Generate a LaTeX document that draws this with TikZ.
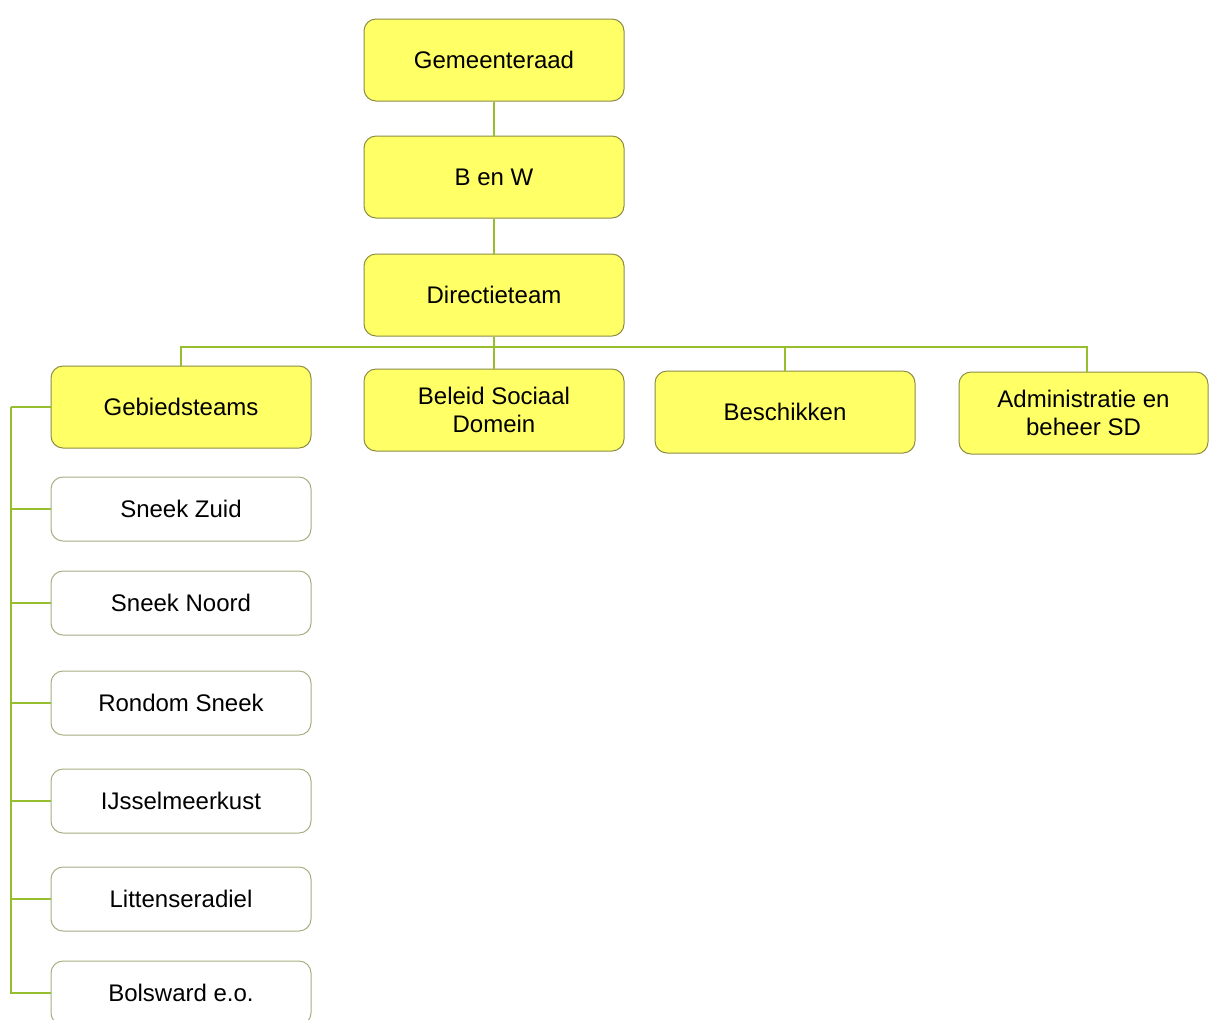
\documentclass[tikz,border=0pt]{standalone}
\usepackage{fontspec}
\setmainfont{Liberation Sans}
\definecolor{boxyellow}{RGB}{255,255,102}
\definecolor{boxedge}{RGB}{140,140,70}
\definecolor{paleedge}{RGB}{165,175,130}
\definecolor{linkgreen}{RGB}{150,190,45}

\begin{document}
\begin{tikzpicture}[x=0.5pt, y=-0.5pt,
  unit/.style={draw=boxedge, fill=boxyellow, line width=0.5pt, rounded corners=6pt,
    minimum width=130pt, minimum height=41pt, align=center, font=\fontsize{12}{14}\selectfont},
  team/.style={draw=paleedge, fill=white, line width=0.5pt, rounded corners=6pt,
    minimum width=130pt, minimum height=32pt, align=center, font=\fontsize{12}{14}\selectfont},
  link/.style={draw=linkgreen, line width=1pt}]
\useasboundingbox (0,0) rectangle (1209,1019);
\node[unit] (raad) at (494,60) {Gemeenteraad};
\node[unit] (benw) at (494,177) {B en W};
\node[unit] (dir) at (494,295) {Directieteam};
\node[unit] (geb) at (181,407) {Gebiedsteams};
\node[unit] (beleid) at (494,410) {Beleid Sociaal\\Domein};
\node[unit] (besch) at (785,412) {Beschikken};
\node[unit, minimum width=124.5pt] (admin) at (1083.5,413) {Administratie en\\beheer SD};
\node[team] (zuid) at (181,509) {Sneek Zuid};
\node[team] (noord) at (181,603) {Sneek Noord};
\node[team] (rondom) at (181,703) {Rondom Sneek};
\node[team] (ijssel) at (181,801) {IJsselmeerkust};
\node[team] (litten) at (181,899) {Littenseradiel};
\node[team] (bols) at (181,993) {Bolsward e.o.};
\coordinate (bus) at (494,347);
\coordinate (rail) at (11,407);
\draw[link] (raad) -- (benw);
\draw[link] (benw) -- (dir);
\draw[link] (dir) -- (bus);
\draw[link] (bus) -| (geb.north);
\draw[link] (bus) -- (beleid.north);
\draw[link] (bus) -| (besch.north);
\draw[link] (bus) -| ([xshift=1.5pt]admin.north);
\draw[link] (geb.west) -- (rail);
\foreach \t in {zuid,noord,rondom,ijssel,litten,bols}
  \draw[link] (rail) |- (\t.west);
\end{tikzpicture}
\end{document}
